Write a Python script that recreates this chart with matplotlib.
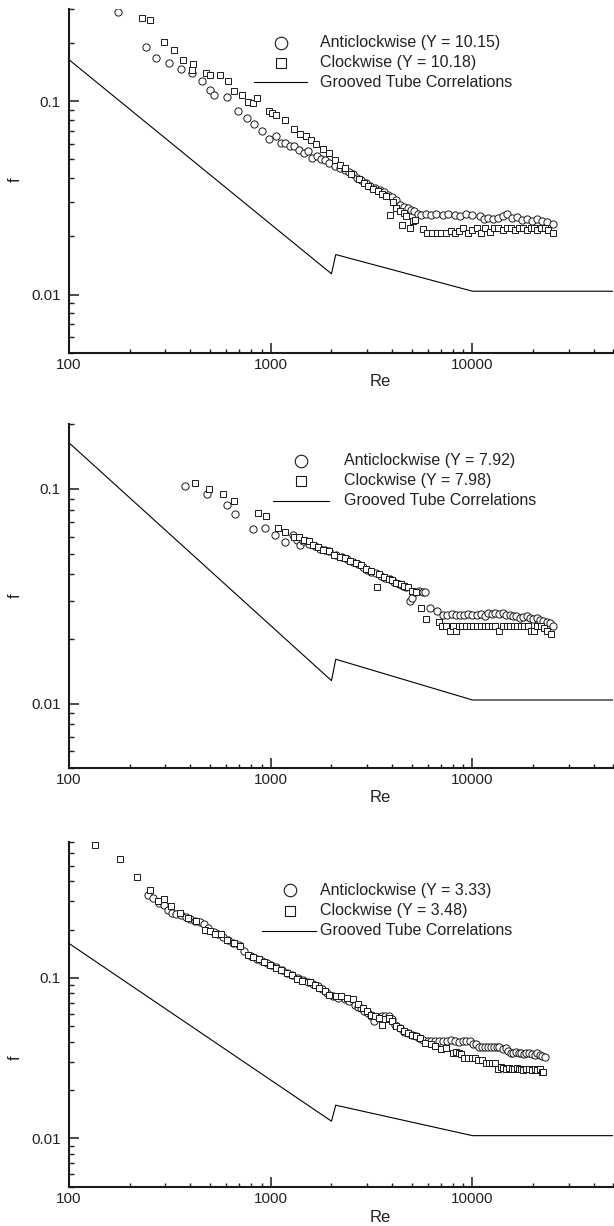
import matplotlib
matplotlib.use("Agg")
import matplotlib.pyplot as plt
from matplotlib.ticker import LogLocator, FixedLocator, FuncFormatter, NullFormatter

plt.rcParams['font.family'] = ['Liberation Sans', 'DejaVu Sans']

# ---------------- data ----------------
corr_re = [100, 2000, 2100, 10000, 50000]
corr_f = [0.164, 0.0128, 0.0161, 0.0104, 0.0104]

p1_anti = [(174, 0.289), (241, 0.191), (270, 0.167), (313, 0.158), (358, 0.146), (406, 0.140), (456, 0.128),
           (501, 0.1146), (524, 0.1083), (604, 0.1054), (691, 0.0892), (759, 0.0814), (826, 0.076), (908, 0.070),
           (984, 0.0634), (1061, 0.0663), (1130, 0.061), (1180, 0.0605), (1240, 0.059), (1305, 0.0585),
           (1380, 0.056), (1458, 0.054), (1530, 0.0555), (1609, 0.0509), (1700, 0.052), (1780, 0.0505),
           (1866, 0.0499), (1950, 0.048), (2086, 0.0461), (2200, 0.045), (2334, 0.0443), (2450, 0.043),
           (2551, 0.0418), (2670, 0.040), (2789, 0.0389), (2950, 0.0378), (3119, 0.0366), (3300, 0.0355),
           (3489, 0.0349), (3650, 0.034), (3814, 0.0329), (4000, 0.032), (4170, 0.031), (4365, 0.0292),
           (4560, 0.0285), (4775, 0.0281), (4950, 0.0275), (5110, 0.027), (5350, 0.0262), (5580, 0.0259),
           (5900, 0.026), (6240, 0.0258), (6600, 0.026), (7130, 0.0258), (7600, 0.026), (8160, 0.0259),
           (8700, 0.0255), (9330, 0.026), (10000, 0.0258), (10900, 0.0255), (11400, 0.0245), (11940, 0.0248),
           (12600, 0.0245), (13340, 0.025), (14100, 0.0255), (14910, 0.026), (15700, 0.0248), (16670, 0.0252),
           (17600, 0.0243), (18650, 0.0245), (19700, 0.024), (20860, 0.0245), (22000, 0.024), (23330, 0.0238),
           (24950, 0.0232)]

p1_clock = [(231, 0.2703), (253, 0.2616), (297, 0.2019), (330, 0.183), (366, 0.1643), (408, 0.1459), (413, 0.155),
            (479, 0.1396), (502, 0.1363), (560, 0.1374), (612, 0.1269), (661, 0.1136), (723, 0.1083), (770, 0.0996),
            (815, 0.098), (853, 0.104), (979, 0.0895), (1010, 0.0871), (1066, 0.0844), (1172, 0.0804),
            (1299, 0.0722), (1394, 0.0673), (1498, 0.0659), (1580, 0.063), (1667, 0.0604), (1806, 0.0563),
            (1951, 0.0537), (2086, 0.0499), (2200, 0.047), (2334, 0.0452), (2500, 0.042), (2728, 0.0394),
            (2900, 0.0378), (3050, 0.0364), (3230, 0.035), (3410, 0.0343), (3570, 0.033), (3734, 0.0323),
            (3902, 0.0259), (4050, 0.030), (4170, 0.0281), (4365, 0.027), (4459, 0.023), (4563, 0.0265),
            (4700, 0.0255), (4887, 0.022), (5050, 0.024), (5216, 0.0242), (5710, 0.0219), (5970, 0.0209),
            (6300, 0.0209), (6650, 0.0209), (7000, 0.0209), (7400, 0.0209), (7800, 0.0212), (8200, 0.0209),
            (8600, 0.0214), (9000, 0.022), (9500, 0.0209), (10000, 0.0215), (10500, 0.022), (11000, 0.0209),
            (11600, 0.022), (12200, 0.021), (12800, 0.022), (13400, 0.022), (14100, 0.0215), (14800, 0.022),
            (15500, 0.022), (16200, 0.0215), (17000, 0.022), (17800, 0.022), (18600, 0.0215), (19400, 0.022),
            (20200, 0.022), (21000, 0.0215), (21900, 0.022), (22800, 0.022), (23800, 0.0215), (24950, 0.0209)]

p2_anti = [(374, 0.1028), (482, 0.0948), (604, 0.0839), (667, 0.0768), (819, 0.0651), (933, 0.0658),
           (1053, 0.0608), (1182, 0.0566), (1293, 0.0612), (1350, 0.058), (1394, 0.0546), (1450, 0.057),
           (1550, 0.0555), (1650, 0.054), (1750, 0.0525), (1850, 0.052), (1950, 0.0512), (2100, 0.049),
           (2250, 0.048), (2400, 0.047), (2550, 0.0455), (2700, 0.0445), (2850, 0.0435), (3000, 0.042),
           (3150, 0.041), (3337, 0.0406), (3500, 0.0395), (3700, 0.0385), (3900, 0.038), (4100, 0.037),
           (4300, 0.036), (4500, 0.0355), (4700, 0.035), (4890, 0.030), (5000, 0.031), (5200, 0.033),
           (5450, 0.0335), (5700, 0.033), (5840, 0.033), (6150, 0.0279), (6670, 0.0269), (7130, 0.026),
           (7500, 0.026), (7900, 0.0262), (8300, 0.026), (8700, 0.0258), (9100, 0.026), (9500, 0.0262),
           (10000, 0.026), (10500, 0.026), (11000, 0.0262), (11500, 0.0255), (12000, 0.0265), (12500, 0.0262),
           (13000, 0.0265), (13500, 0.0262), (14100, 0.0265), (14700, 0.0258), (15300, 0.026), (15900, 0.0255),
           (16500, 0.0255), (17200, 0.025), (17900, 0.0252), (18600, 0.0255), (19300, 0.025), (20000, 0.0248),
           (20800, 0.025), (21600, 0.0245), (22400, 0.0242), (23300, 0.024), (24200, 0.0238), (25000, 0.0229)]

p2_clock = [(421, 0.107), (494, 0.100), (583, 0.0948), (661, 0.0882), (868, 0.077), (950, 0.0751), (1086, 0.0658),
            (1177, 0.0628), (1305, 0.060), (1380, 0.0595), (1460, 0.058), (1540, 0.057), (1627, 0.0546),
            (1720, 0.0535), (1820, 0.052), (1950, 0.0512), (2050, 0.0495), (2200, 0.048), (2334, 0.0477),
            (2480, 0.046), (2640, 0.045), (2790, 0.044), (2950, 0.0425), (3150, 0.0415), (3368, 0.035),
            (3450, 0.040), (3650, 0.039), (3850, 0.038), (3988, 0.0378), (4200, 0.0365), (4400, 0.036),
            (4600, 0.0355), (4775, 0.035), (5000, 0.0335), (5250, 0.033), (5530, 0.0279), (5890, 0.0249),
            (6820, 0.0239), (7100, 0.0229), (7400, 0.0229), (7700, 0.0217), (8000, 0.0229), (8300, 0.0217),
            (8600, 0.0229), (8900, 0.0229), (9300, 0.0229), (9700, 0.0229), (10100, 0.0229), (10500, 0.0229),
            (11000, 0.0229), (11500, 0.0229), (12000, 0.0229), (12500, 0.0229), (13000, 0.0229), (13600, 0.0217),
            (14200, 0.0229), (14800, 0.0229), (15400, 0.0229), (16000, 0.0229), (16700, 0.0229), (17400, 0.0229),
            (18100, 0.0229), (18800, 0.0229), (19500, 0.0217), (20200, 0.0217), (21000, 0.0229), (21800, 0.0229),
            (22600, 0.0225), (23500, 0.0217), (24500, 0.021)]

p3_anti = [(247, 0.3283), (261, 0.313), (280, 0.2943), (295, 0.285), (309, 0.2634), (325, 0.255), (341, 0.2487),
           (360, 0.245), (380, 0.238), (400, 0.232), (420, 0.226), (445, 0.222), (466, 0.2176), (490, 0.205),
           (521, 0.1928), (550, 0.188), (580, 0.180), (615, 0.172), (652, 0.1654), (697, 0.1615), (740, 0.148),
           (798, 0.1365), (850, 0.132), (900, 0.128), (953, 0.1241), (1000, 0.120), (1060, 0.117), (1140, 0.1127),
           (1200, 0.108), (1280, 0.104), (1364, 0.100), (1450, 0.097), (1530, 0.094), (1620, 0.091),
           (1706, 0.0886), (1800, 0.085), (1900, 0.081), (2040, 0.0767), (2150, 0.075), (2334, 0.0739),
           (2450, 0.072), (2607, 0.0681), (2700, 0.066), (2790, 0.065), (2900, 0.062), (3050, 0.0604),
           (3150, 0.058), (3260, 0.0536), (3400, 0.057), (3550, 0.0575), (3700, 0.0575), (3850, 0.058),
           (4000, 0.0555), (4150, 0.051), (4365, 0.0487), (4560, 0.046), (4775, 0.0453), (5000, 0.044),
           (5220, 0.0436), (5450, 0.042), (5707, 0.0411), (6000, 0.0405), (6240, 0.0402), (6520, 0.0402),
           (6820, 0.0405), (7130, 0.0402), (7460, 0.0405), (7800, 0.041), (8160, 0.0405), (8530, 0.040),
           (8925, 0.0402), (9330, 0.0405), (9760, 0.0402), (10100, 0.039), (10430, 0.0385), (10800, 0.037),
           (11160, 0.0371), (11600, 0.0371), (12000, 0.0371), (12400, 0.0371), (12760, 0.0371), (13200, 0.0371),
           (13600, 0.037), (14100, 0.036), (14590, 0.0365), (15000, 0.035), (15500, 0.034), (15960, 0.034),
           (16500, 0.0345), (17000, 0.034), (17450, 0.034), (18000, 0.0335), (18500, 0.034), (19090, 0.034),
           (19700, 0.0335), (20300, 0.033), (20860, 0.034), (21500, 0.033), (22100, 0.0325), (22810, 0.0321)]

p3_clock = [(134.6, 0.6745), (180, 0.5508), (217, 0.4276), (253, 0.3512), (275, 0.300), (296, 0.3086),
            (322, 0.2803), (356, 0.2547), (390, 0.2371), (426, 0.2259), (471, 0.2003), (500, 0.195), (528, 0.1865),
            (570, 0.1884), (610, 0.1718), (655, 0.165), (703, 0.1576), (770, 0.1398), (820, 0.135), (872, 0.1315),
            (930, 0.126), (997, 0.1211), (1060, 0.116), (1130, 0.1115), (1200, 0.108), (1276, 0.1038),
            (1350, 0.099), (1426, 0.0953), (1560, 0.0939), (1650, 0.090), (1744, 0.0866), (1850, 0.083),
            (1950, 0.0787), (2100, 0.077), (2230, 0.0767), (2400, 0.075), (2551, 0.0739), (2700, 0.069),
            (2850, 0.065), (3000, 0.062), (3150, 0.0585), (3300, 0.0575), (3450, 0.0565), (3570, 0.0511),
            (3700, 0.0555), (3850, 0.056), (4000, 0.054), (4200, 0.050), (4365, 0.0487), (4600, 0.0465),
            (4775, 0.0453), (5000, 0.044), (5220, 0.0436), (5500, 0.042), (5835, 0.0393), (6200, 0.0385),
            (6525, 0.0377), (6980, 0.0363), (7400, 0.0365), (7980, 0.034), (8250, 0.0345), (8530, 0.034),
            (8800, 0.0335), (9120, 0.0316), (9500, 0.0316), (9900, 0.0316), (10300, 0.0316), (10700, 0.031),
            (11200, 0.031), (11670, 0.0293), (12100, 0.0295), (12480, 0.0293), (12900, 0.0293), (13350, 0.0271),
            (13800, 0.028), (14200, 0.0275), (14590, 0.0271), (15100, 0.0275), (15610, 0.0271), (16100, 0.027),
            (16600, 0.0275), (17100, 0.0271), (17450, 0.027), (17900, 0.0265), (18400, 0.0271), (19090, 0.0271),
            (19700, 0.0265), (20410, 0.0271), (21000, 0.0265), (21600, 0.0271), (22000, 0.026), (22330, 0.026)]

labels_anti = ["Anticlockwise (Y = 10.15)", "Anticlockwise (Y = 7.92)", "Anticlockwise (Y = 3.33)"]
labels_clock = ["Clockwise (Y = 10.18)", "Clockwise (Y = 7.98)", "Clockwise (Y = 3.48)"]
label_corr = "Grooved Tube Correlations"
ylims = [(0.005, 0.3), (0.005, 0.2), (0.005, 0.7)]

# ---------------- layout (pixels) ----------------
W, H = 614, 1226
fig = plt.figure(figsize=(W / 100, H / 100), dpi=100)
ax_left, ax_right = 69.0, 613.5
panels_px = [(9.0, 352.7), (424.3, 768.3), (842.3, 1186.7)]
# legend: (marker x, line x0, line x1, text x, row1 y, row2 y, row3 y)
legend_px = [(281, 253.7, 307, 320, 42.7, 62.7, 82.3),
             (301.5, 273, 329, 343.8, 460.7, 481, 500.7),
             (289.7, 261.6, 316.4, 320.3, 890, 910.7, 930.7)]
flabel_y = [180, 596, 1058]
relabel_dy = [29, 29, 31]

dark = '#1a1a1a'
datasets = [(p1_anti, p1_clock), (p2_anti, p2_clock), (p3_anti, p3_clock)]

for i, ((top, bot), (anti, clock)) in enumerate(zip(panels_px, datasets)):
    ax = fig.add_axes([ax_left / W, 1 - bot / H, (ax_right - ax_left) / W, (bot - top) / H])
    ax.set_xscale('log')
    ax.set_yscale('log')
    ax.set_xlim(100, 50000)
    ax.set_ylim(*ylims[i])

    ax.plot(corr_re, corr_f, color='black', lw=0.8, zorder=2)
    ax.plot([p[0] for p in anti], [p[1] for p in anti], ls='none', marker='o', ms=5.2,
            mfc='white', mec=dark, mew=0.7, zorder=3)
    ax.plot([p[0] for p in clock], [p[1] for p in clock], ls='none', marker='s', ms=4.0,
            mfc='white', mec=dark, mew=0.7, zorder=4)

    for s in ['top', 'right']:
        ax.spines[s].set_visible(False)
    for s in ['left', 'bottom']:
        ax.spines[s].set_linewidth(1.5)
        ax.spines[s].set_color(dark)

    ax.xaxis.set_major_locator(FixedLocator([100, 1000, 10000]))
    ax.xaxis.set_minor_locator(LogLocator(base=10, subs=range(2, 10)))
    ax.xaxis.set_major_formatter(FuncFormatter(lambda v, p: '%d' % round(v)))
    ax.xaxis.set_minor_formatter(NullFormatter())
    ax.yaxis.set_major_locator(FixedLocator([0.01, 0.1]))
    ax.yaxis.set_minor_locator(LogLocator(base=10, subs=range(2, 10)))
    ax.yaxis.set_major_formatter(FuncFormatter(lambda v, p: '%g' % v))
    ax.yaxis.set_minor_formatter(NullFormatter())
    ax.tick_params(axis='both', which='both', direction='in', color=dark, labelsize=11, labelcolor='#222222')
    ax.tick_params(axis='x', which='major', length=7, width=1.1, pad=3.5)
    ax.tick_params(axis='x', which='minor', length=3, width=1.0)
    ax.tick_params(axis='y', which='major', length=7, width=1.1, pad=6)
    ax.tick_params(axis='y', which='minor', length=3.5, width=1.0)

    axw = ax_right - ax_left
    axh = bot - top
    # axis labels
    ax.set_xlabel('Re', fontsize=12, color='#222222')
    ax.xaxis.label.set_va('center')
    ax.xaxis.set_label_coords((380 - ax_left) / axw, -relabel_dy[i] / axh)
    ax.set_ylabel('f', fontsize=12, color='#222222')
    ax.yaxis.label.set_va('center')
    ax.yaxis.set_label_coords((15.7 - ax_left) / axw, (bot - flabel_y[i]) / axh)

    # legend (drawn in axes fraction coordinates)
    mx, lx0, lx1, tx, r1, r2, r3 = legend_px[i]
    fx = lambda px: (px - ax_left) / axw
    fy = lambda py: (bot - py) / axh
    ax.plot([fx(mx)], [fy(r1)], transform=ax.transAxes, ls='none', marker='o', ms=9,
            mfc='white', mec=dark, mew=0.8, clip_on=False)
    ax.plot([fx(mx)], [fy(r2)], transform=ax.transAxes, ls='none', marker='s', ms=7,
            mfc='white', mec=dark, mew=0.8, clip_on=False)
    ax.plot([fx(lx0), fx(lx1)], [fy(r3), fy(r3)], transform=ax.transAxes, color='black', lw=0.8,
            clip_on=False)
    for txt, ry in zip([labels_anti[i], labels_clock[i], label_corr], [r1, r2, r3]):
        ax.text(fx(tx), fy(ry), txt, transform=ax.transAxes, fontsize=11.5, color='#222222',
                ha='left', va='center')

fig.savefig('out.png', dpi=100)
